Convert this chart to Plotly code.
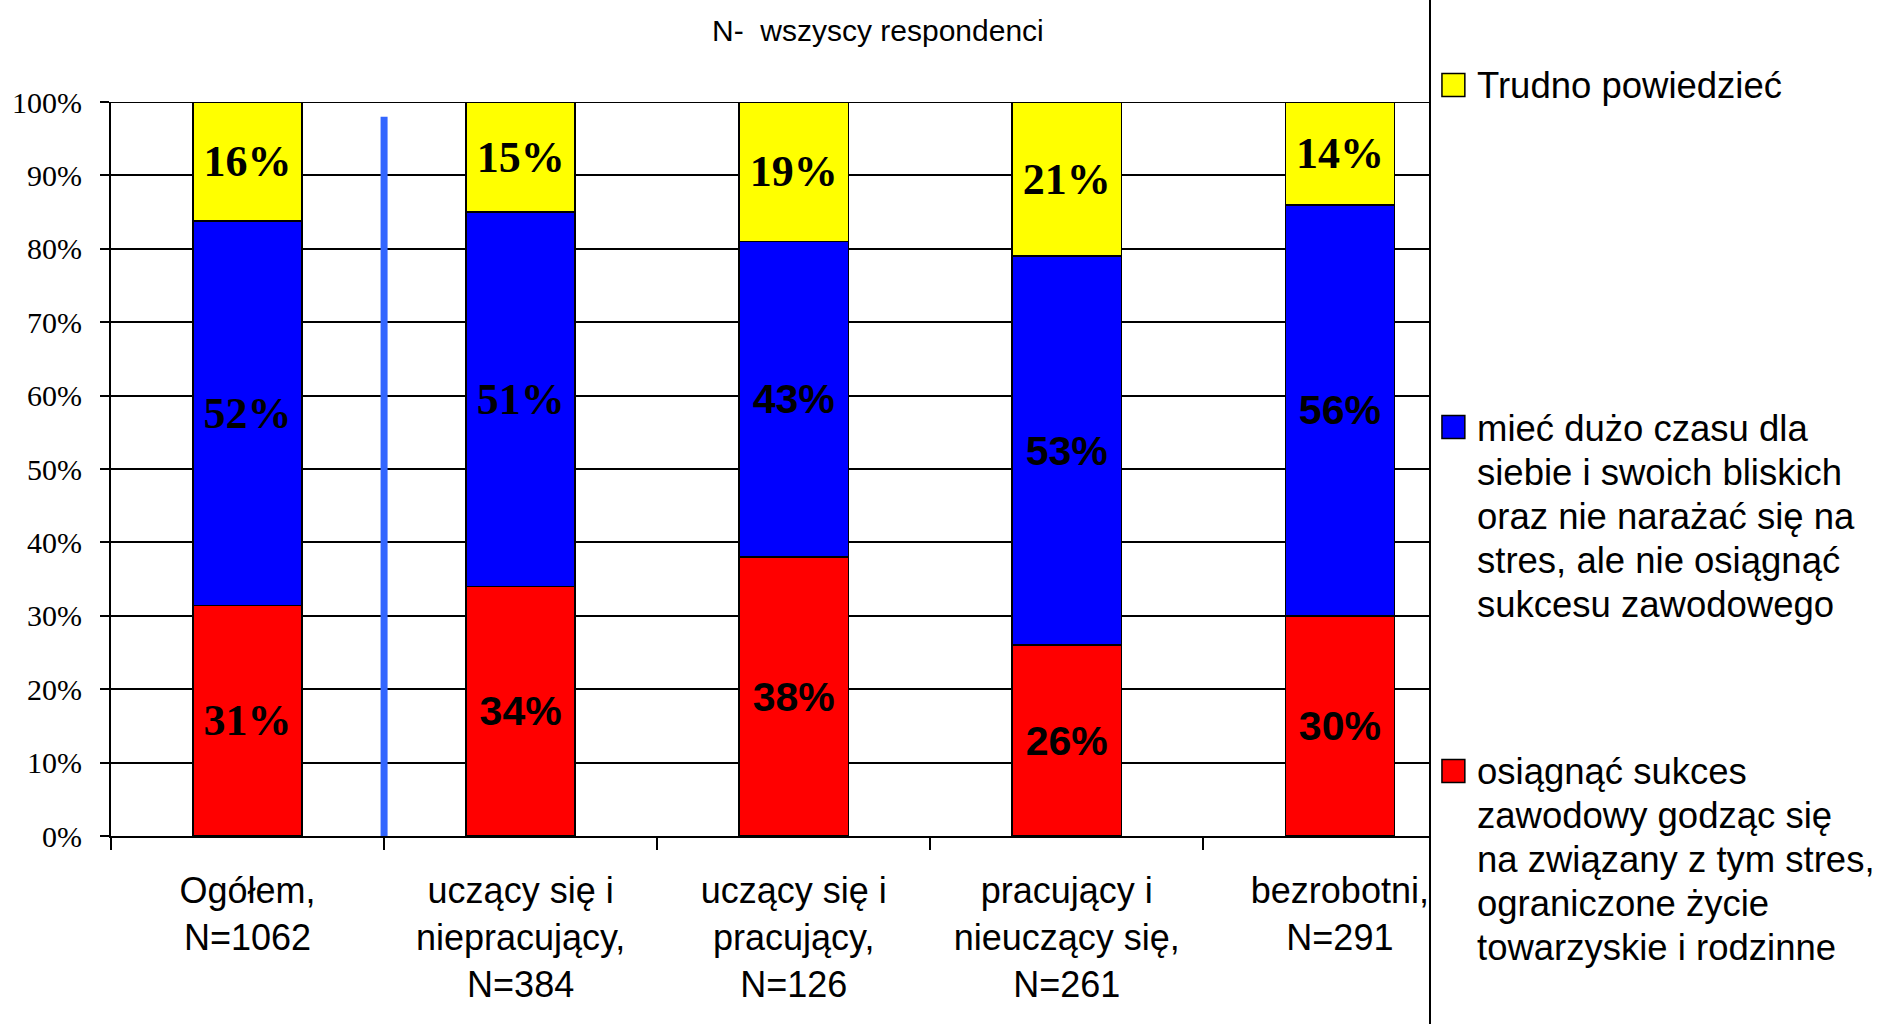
import plotly.graph_objects as go

# ---- data ----
categories = [
    "Ogółem,<br>N=1062",
    "uczący się i<br>niepracujący,<br>N=384",
    "uczący się i<br>pracujący,<br>N=126",
    "pracujący i<br>nieuczący się,<br>N=261",
    "bezrobotni,<br>N=291",
]
sukces = [31.4, 34, 38, 26, 30]          # osiągnąć sukces zawodowy ...
czas = [52.4, 51, 43, 53, 56]            # mieć dużo czasu dla siebie ...
trudno = [16.2, 15, 19, 21, 14]          # Trudno powiedzieć
y_ticks = [0, 10, 20, 30, 40, 50, 60, 70, 80, 90, 100]
y_tick_labels = [f"{v}%" for v in y_ticks]
separator_top = 98

series_names = {
    "sukces": "osiągnąć sukces zawodowy godząc się na związany z tym stres, ograniczone życie towarzyskie i rodzinne",
    "czas": "mieć dużo czasu dla siebie i swoich bliskich oraz nie narażać się na stres, ale nie osiągnąć sukcesu zawodowego",
    "trudno": "Trudno powiedzieć",
}
legend_lines = {
    "trudno": ["Trudno powiedzieć"],
    "czas": ["mieć dużo czasu dla", "siebie i swoich bliskich", "oraz nie narażać się na",
             "stres, ale nie osiągnąć", "sukcesu zawodowego"],
    "sukces": ["osiągnąć sukces", "zawodowy godząc się", "na związany z tym stres,",
               "ograniczone życie", "towarzyskie i rodzinne"],
}

# ---- styles ----
RED, BLUE, YELLOW = "#FF0000", "#0000FF", "#FFFF00"
SERIF = "Liberation Serif"
SANS = "Liberation Sans"
# which value labels are set in the serif face (the rest are bold sans)
serif_label = {
    "sukces": [True, False, False, False, False],
    "czas": [True, True, False, False, False],
    "trudno": [True, True, True, True, True],
}

W, H = 1880, 1024
L, R_EDGE, T, B_EDGE = 105, 1430, 102, 836
PW, PH = R_EDGE - L, B_EDGE - T


def px(x):
    return (x - L) / PW


def py(y):
    return (B_EDGE - y) / PH


fig = go.Figure()
for key, vals, color in [
    ("sukces", sukces, RED),
    ("czas", czas, BLUE),
    ("trudno", trudno, YELLOW),
]:
    for want_serif, fam, size in [(True, SERIF, 44), (False, SANS, 41)]:
        ys = [v if s == want_serif else None for v, s in zip(vals, serif_label[key])]
        if all(v is None for v in ys):
            continue
        txt = [f"<b>{round(v)}%</b>" if v is not None else "" for v in ys]
        tf = dict(family=fam, size=size, color="black")
        fig.add_trace(go.Bar(
            x=categories, y=ys, name=series_names[key],
            marker=dict(color=color, line=dict(color="black", width=1.5)),
            width=0.4,
            text=txt, textposition="inside", insidetextanchor="middle",
            textangle=0,
            textfont=tf, insidetextfont=tf,
            hoverinfo="skip",
        ))

fig.update_layout(
    width=W, height=H, autosize=False,
    margin=dict(l=L, r=W - R_EDGE, t=T, b=H - B_EDGE, pad=0),
    barmode="stack", showlegend=False,
    paper_bgcolor="white", plot_bgcolor="white",
    font=dict(family=SANS, color="black"),
)
fig.update_xaxes(
    type="category", range=[-0.5, 4.33],
    tickson="boundaries", ticks="outside", ticklen=12, tickwidth=1.5, tickcolor="black",
    showline=True, linecolor="black", linewidth=2,
    showgrid=False,
    tickfont=dict(family=SANS, size=36, color="black"),
    ticklabelstandoff=22,
)
fig.update_yaxes(
    range=[0, 100], tickvals=y_ticks, ticktext=y_tick_labels,
    ticks="outside", ticklen=9, tickwidth=1.5, tickcolor="black",
    showline=True, linecolor="black", linewidth=2,
    showgrid=True, gridcolor="black", gridwidth=1.5,
    zeroline=False,
    tickfont=dict(family=SERIF, size=30, color="black"),
    ticklabelstandoff=12,
)

# separator between total and groups
fig.add_shape(type="line", xref="x", yref="y", x0=0.5, x1=0.5, y0=0, y1=separator_top,
              line=dict(color="#3366FF", width=7), layer="above")
# full-height border at right of plot
fig.add_shape(type="line", xref="paper", yref="paper", x0=1, x1=1, y0=py(H), y1=py(0),
              line=dict(color="black", width=2))
# top border line at 100%
fig.add_shape(type="line", xref="paper", yref="y", x0=0, x1=1, y0=100, y1=100,
              line=dict(color="black", width=2), layer="below")

# title
fig.add_annotation(text="N-  wszyscy respondenci", xref="paper", yref="paper",
                   x=px(875), y=py(30), showarrow=False, xanchor="center", yanchor="middle",
                   font=dict(family=SANS, size=30, color="black"))

# manual legend
legend_spec = [
    (YELLOW, 85, legend_lines["trudno"], 85),
    (BLUE, 427, legend_lines["czas"], 428),
    (RED, 771, legend_lines["sukces"], 771),
]
for color, sq_y, lines, first_y in legend_spec:
    fig.add_shape(type="rect", xref="paper", yref="paper",
                  x0=px(1442), x1=px(1465), y0=py(sq_y + 11.5), y1=py(sq_y - 11.5),
                  fillcolor=color, line=dict(color="black", width=1.5))
    for i, ln in enumerate(lines):
        fig.add_annotation(text=ln, xref="paper", yref="paper",
                           x=px(1475), y=py(first_y + i * 44), showarrow=False,
                           xanchor="left", yanchor="middle",
                           font=dict(family=SANS, size=36.5, color="black"))

fig.write_html("out.html", config={"displayModeBar": False},
               post_script="document.body.style.margin='0';document.body.style.overflow='hidden';")
